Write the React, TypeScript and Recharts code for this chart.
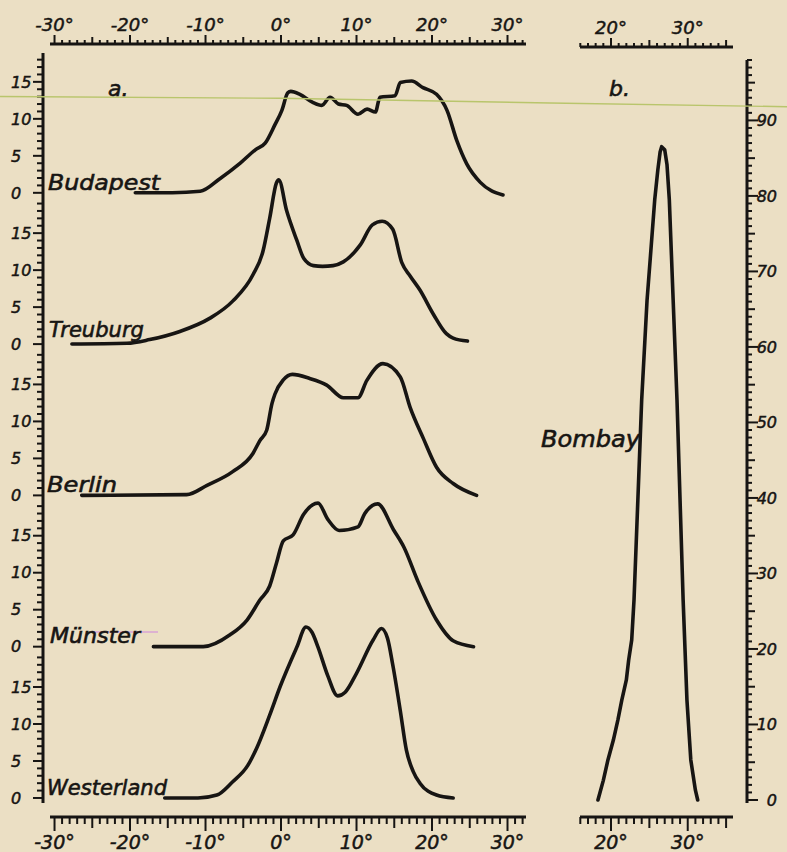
import React from "react";
import { LineChart, Line, XAxis, YAxis } from "recharts";

const PAPER = "#ebdfc4";
const INK = "#171513";
const FONT = '"DejaVu Sans", sans-serif';

// [degrees, count] — panel a (stacked stations)
const BUDAPEST = [
  [-19.3, 0], [-14.4, 0], [-10.7, 0.2], [-8.1, 1.9], [-5.4, 4.0], [-3.4, 5.8], [-2.1, 6.7],
  [-0.8, 9.2], [0.1, 11.1], [0.9, 13.5], [1.3, 13.7], [2.5, 13.3], [4.2, 12.2], [5.4, 11.8],
  [6.5, 12.9], [7.6, 12.0], [8.7, 11.8], [10.2, 10.6], [11.4, 11.3], [12.5, 10.9], [13.1, 12.9],
  [15.1, 13.1], [15.8, 14.9], [17.3, 15.1], [18.8, 14.2], [20.6, 13.3], [22.0, 11.1], [23.3, 7.0],
  [24.6, 3.9], [26.4, 1.4], [29.4, -0.3],
];
const TREUBURG = [
  [-27.7, 0], [-20.4, 0.1], [-17.4, 0.6], [-13.4, 1.7], [-9.4, 3.5], [-6.4, 5.8], [-3.7, 9.4],
  [-2.4, 12.5], [-1.5, 17.0], [-0.6, 21.8], [-0.3, 22.2], [0.75, 18.0], [2.1, 14.0], [3.0, 11.6],
  [4.3, 10.6], [5.5, 10.5], [6.9, 10.6], [8.25, 11.1], [10.5, 13.4], [12.1, 16.1], [13.4, 16.6],
  [14.8, 15.5], [16.0, 11.0], [17.1, 9.2], [18.4, 7.3], [20.2, 4.0], [21.9, 1.4], [22.8, 0.8],
  [24.7, 0.4],
];
const BERLIN = [
  [-26.4, 0], [-12.5, 0.1], [-9.8, 1.35], [-6.4, 3.2], [-3.7, 5.7], [-2.8, 7.4], [-1.9, 8.8],
  [-1.2, 12.4], [-0.8, 13.7], [0.3, 15.6], [1.5, 16.35], [3.8, 15.8], [6.05, 14.9], [8.25, 13.2],
  [10.2, 13.2], [11.35, 15.5], [13.5, 17.8], [15.8, 16.0], [17.1, 11.9], [18.85, 7.7],
  [20.6, 3.8], [22.8, 1.6], [25.9, 0],
];
const MUENSTER = [
  [-16.9, 0], [-10.3, 0], [-6.75, 1.6], [-4.5, 3.6], [-2.8, 6.3], [-1.5, 8.2], [-0.6, 11.3],
  [0.3, 14.3], [1.6, 15.1], [3.0, 17.9], [4.9, 19.4], [6.2, 17.2], [7.7, 15.7], [10.2, 16.2],
  [11.1, 18.0], [12.8, 19.3], [14.9, 15.8], [16.3, 13.4], [18.1, 8.9], [20.6, 3.6], [22.8, 0.8],
  [25.5, 0],
];
const WESTERLAND = [
  [-15.4, 0], [-11.0, 0], [-8.5, 0.4], [-6.4, 2.2], [-4.4, 4.4], [-3.2, 6.8], [-1.5, 11.2],
  [-0.1, 15.1], [2.1, 20.4], [3.3, 23.1], [4.1, 22.4], [4.9, 20.4], [6.2, 16.5], [7.5, 13.8],
  [8.5, 14.3], [10.0, 16.85], [12.2, 21.35], [13.3, 22.9], [14.1, 21.6], [14.8, 18.0],
  [15.8, 11.8], [16.6, 6.5], [17.5, 3.6], [18.4, 2.0], [20.6, 0.4], [22.8, 0],
];
// panel b
const BOMBAY = [
  [18.3, 0], [19.0, 2.6], [19.6, 5.3], [20.3, 7.9], [20.9, 10.6], [21.4, 13.2], [22.0, 15.9],
  [22.3, 18.5], [22.7, 21.2], [23.0, 26.5], [23.5, 39.7], [24.0, 53.0], [24.7, 66.2],
  [25.2, 72.8], [25.7, 79.5], [26.1, 83.4], [26.4, 85.8], [26.6, 86.5], [27.0, 86.1],
  [27.3, 84.1], [27.6, 79.5], [28.1, 66.2], [28.6, 53.0], [29.0, 39.7], [29.4, 26.5],
  [29.9, 13.2], [30.4, 5.3], [31.0, 1.3], [31.3, 0],
];

const BAND = 20.45; // vertical shift between the stacked curves, in count units
const STATIONS = [
  { name: "Budapest", pts: BUDAPEST, level: 4 },
  { name: "Treuburg", pts: TREUBURG, level: 3 },
  { name: "Berlin", pts: BERLIN, level: 2 },
  { name: "Münster", pts: MUENSTER, level: 1 },
  { name: "Westerland", pts: WESTERLAND, level: 0 },
];
const LEFT_LABELS = [0, 5, 10, 15];

const range = (a: number, b: number) => Array.from({ length: b - a + 1 }, (_, i) => a + i);
const A_TICKS = range(-30, 32);
const B_TICKS = range(16, 35);
const RIGHT_TICKS = range(0, 98);
const LEFT_TICKS = [0, 1, 2, 3, 4].flatMap((b) => range(0, b === 4 ? 18 : 19).map((k) => b * BAND + k));

const numStyle = {
  fontFamily: FONT, fontStyle: "italic" as const, fontSize: 16, fill: INK, stroke: INK, strokeWidth: 0.5,
};

const xTick = (side: "top" | "bottom") => (props: any) => {
  const { x, y, payload } = props;
  const v = Math.round(payload.value);
  const dir = side === "top" ? -1 : 1;
  const len = side === "top" ? (v % 10 === 0 ? 9 : v % 5 === 0 ? 7 : 4) : (v % 10 === 0 ? 14 : v % 5 === 0 ? 11 : 7);
  return (
    <g>
      <line x1={x} x2={x} y1={y} y2={y + dir * len} stroke={INK} strokeWidth={2} />
      {v % 10 === 0 && (
        <text x={x} y={side === "top" ? y - 13 : y + 32} textAnchor="middle" {...numStyle}
          fontSize={side === "top" ? 18 : 19}>
          {`${v}°`}
        </text>
      )}
    </g>
  );
};

const leftTick = (props: any) => {
  const { x, y, payload } = props;
  const v = payload.value;
  const band = Math.floor((v + 1e-6) / BAND);
  const k = Math.round(v - band * BAND);
  const major = k % 5 === 0;
  return (
    <g>
      <line x1={x} x2={x - (major ? 10 : 6)} y1={y} y2={y} stroke={INK} strokeWidth={2} />
      {LEFT_LABELS.includes(k) && (
        <text x={11} y={y} dy="0.36em" textAnchor="start" {...numStyle}>
          {k}
        </text>
      )}
    </g>
  );
};

const rightTick = (props: any) => {
  const { x, y, payload } = props;
  const v = Math.round(payload.value);
  const len = v % 10 === 0 ? 11 : v % 5 === 0 ? 8 : 5;
  return (
    <g>
      <line x1={x} x2={x + len} y1={y} y2={y} stroke={INK} strokeWidth={2} />
      {v % 10 === 0 && (
        <text x={777} y={y} dy="0.36em" textAnchor="end" {...numStyle}>
          {v}
        </text>
      )}
    </g>
  );
};

const axisLine = { stroke: INK, strokeWidth: 3 };
const abs: React.CSSProperties = { position: "absolute", left: 0, top: 0 };

const nameStyle = {
  fontFamily: FONT, fontStyle: "italic" as const, fontSize: 21, fill: INK, stroke: INK, strokeWidth: 0.6,
};

export default function App() {
  return (
    <div style={{ ...abs, width: 787, height: 852, background: PAPER, overflow: "hidden" }}>
      {/* panel a: curves and degree scales */}
      <div style={abs}>
        <LineChart width={787} height={852} margin={{ top: 0, right: 261, bottom: 0, left: 50 }}>
          <XAxis xAxisId="top" orientation="top" type="number" dataKey="deg" domain={[-30.6, 32.45]}
            allowDataOverflow height={44} ticks={A_TICKS} interval={0} tickSize={0} tickMargin={0}
            tickLine={false} axisLine={axisLine} tick={xTick("top")} />
          <XAxis xAxisId="bottom" orientation="bottom" type="number" dataKey="deg" domain={[-30.6, 32.45]}
            allowDataOverflow height={35} ticks={A_TICKS} interval={0} tickSize={0} tickMargin={0}
            tickLine={false} axisLine={axisLine} tick={xTick("bottom")} />
          <YAxis hide type="number" domain={[-2.57, 101.9]} allowDataOverflow />
          {STATIONS.map((s) => (
            <Line key={s.name} xAxisId="bottom" data={s.pts.map(([deg, v]) => ({ deg, v: v + s.level * BAND }))}
              dataKey="v" type="monotone" stroke={INK} strokeWidth={3.6} dot={false}
              strokeLinejoin="round" strokeLinecap="round" isAnimationActive={false} />
          ))}
        </LineChart>
      </div>
      {/* panel a: stacked count scale */}
      <div style={abs}>
        <LineChart width={787} height={852} margin={{ top: 53, right: 700, bottom: 49, left: 0 }}>
          <XAxis hide type="number" domain={[0, 1]} />
          <YAxis type="number" domain={[-0.68, 100.7]} allowDataOverflow width={43} ticks={LEFT_TICKS}
            interval={0} tickSize={0} tickMargin={0} tickLine={false} axisLine={axisLine} tick={leftTick} />
        </LineChart>
      </div>
      {/* panel b: Bombay */}
      <div style={abs}>
        <LineChart width={787} height={852} margin={{ top: 0, right: 54, bottom: 0, left: 580 }}>
          <XAxis xAxisId="top" orientation="top" type="number" dataKey="deg" domain={[15.96, 35.9]}
            allowDataOverflow height={47} ticks={B_TICKS} interval={0} tickSize={0} tickMargin={0}
            tickLine={false} axisLine={axisLine} tick={xTick("top")} />
          <XAxis xAxisId="bottom" orientation="bottom" type="number" dataKey="deg" domain={[15.96, 35.9]}
            allowDataOverflow height={35} ticks={B_TICKS} interval={0} tickSize={0} tickMargin={0}
            tickLine={false} axisLine={axisLine} tick={xTick("bottom")} />
          <YAxis hide type="number" domain={[-2.25, 99.7]} allowDataOverflow />
          <Line xAxisId="bottom" data={BOMBAY.map(([deg, v]) => ({ deg, v }))} dataKey="v" type="linear"
            stroke={INK} strokeWidth={3.6} dot={false} strokeLinejoin="round" strokeLinecap="round"
            isAnimationActive={false} />
        </LineChart>
      </div>
      {/* panel b: count scale */}
      <div style={abs}>
        <LineChart width={787} height={852} margin={{ top: 60, right: 0, bottom: 49, left: 700 }}>
          <XAxis hide type="number" domain={[0, 1]} />
          <YAxis orientation="right" type="number" domain={[-0.4, 98]} allowDataOverflow width={40}
            ticks={RIGHT_TICKS} interval={0} tickSize={0} tickMargin={0} tickLine={false}
            axisLine={axisLine} tick={rightTick} />
        </LineChart>
      </div>
      {/* lettering and scan marks */}
      <svg width={787} height={852} style={{ ...abs, pointerEvents: "none" }}>
        <polyline points="0,96.5 280,98.3 550,103 787,106.7" fill="none" stroke="#b9c56c" strokeWidth={1.4} />
        <line x1={93} x2={158} y1={632} y2={632} stroke="#d9a3d6" strokeWidth={1.6} />
        <text x={108} y={96} {...nameStyle} fontSize={22}>a.</text>
        <text x={609} y={96} {...nameStyle} fontSize={22}>b.</text>
        <text x={48} y={190} {...nameStyle} textLength={112} lengthAdjust="spacingAndGlyphs">Budapest</text>
        <text x={49} y={337} {...nameStyle} textLength={95} lengthAdjust="spacingAndGlyphs">Treuburg</text>
        <text x={47} y={492} {...nameStyle} textLength={70} lengthAdjust="spacingAndGlyphs">Berlin</text>
        <text x={50} y={643} {...nameStyle} textLength={90} lengthAdjust="spacingAndGlyphs">Münster</text>
        <text x={47} y={795} {...nameStyle} textLength={120} lengthAdjust="spacingAndGlyphs">Westerland</text>
        <text x={541} y={447} {...nameStyle} fontSize={23} textLength={99} lengthAdjust="spacingAndGlyphs">Bombay</text>
      </svg>
    </div>
  );
}
